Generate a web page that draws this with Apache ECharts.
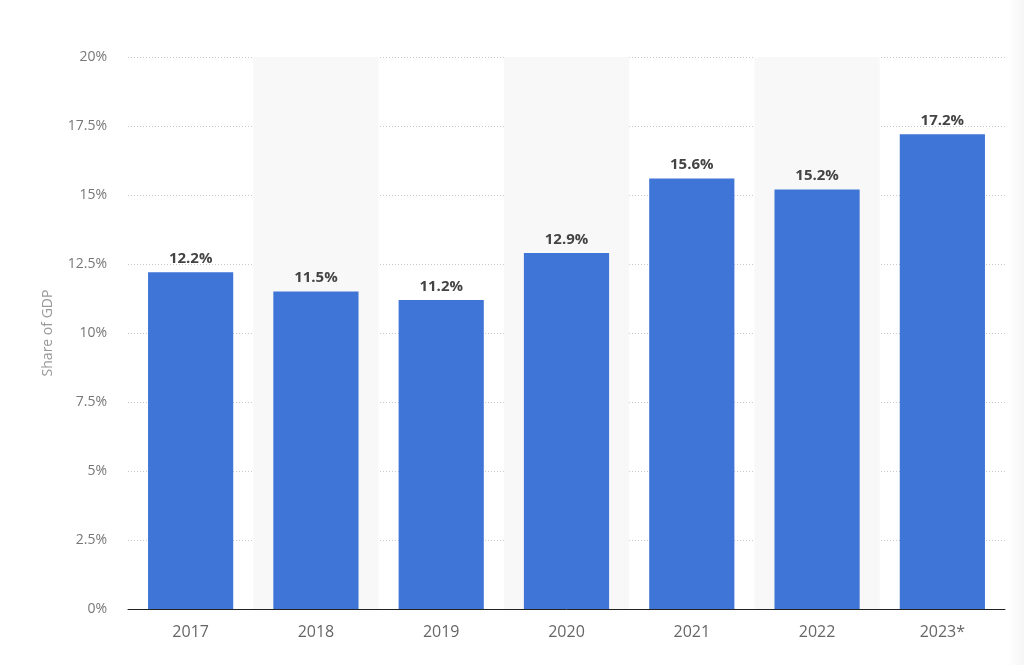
<!DOCTYPE html>
<html><head><meta charset="utf-8">
<style>html,body{margin:0;padding:0;background:#fff;}#c{width:1024px;height:665px;}</style>
<script src="https://cdn.jsdelivr.net/npm/echarts@6/dist/echarts.min.js"></script>
</head><body><div id="c"></div>
<script>
const categories = ['2017','2018','2019','2020','2021','2022','2023*'];
const values = [12.2, 11.5, 11.2, 12.9, 15.6, 15.2, 17.2];
const yTicks = [0, 2.5, 5, 7.5, 10, 12.5, 15, 17.5, 20];

const chart = echarts.init(document.getElementById('c'));
chart.setOption({
  animation: false,
  grid: {left: 128, right: 19, top: 57, bottom: 56, containLabel: false},
  graphic: [{
    type: 'rect', right: 0, top: 0, z: -1,
    shape: {width: 16, height: 665},
    style: {fill: new echarts.graphic.LinearGradient(0,0,1,0,[{offset:0,color:'rgba(0,0,0,0)'},{offset:1,color:'rgba(0,0,0,0.035)'}])}
  }],
  xAxis: {
    type: 'category', data: categories,
    axisLine: {lineStyle: {color: '#222', width: 1}},
    axisTick: {show: false},
    axisLabel: {color: '#666', fontSize: 16, margin: 15, fontFamily: 'Open Sans, sans-serif'},
    splitArea: {show: true, areaStyle: {color: ['rgba(255,255,255,0)', '#f8f8f8']}}
  },
  yAxis: {
    type: 'value', min: 0, max: 20, interval: 2.5,
    name: 'Share of GDP', nameLocation: 'middle', nameGap: 73, nameRotate: 90,
    nameTextStyle: {color: '#999', fontSize: 14, fontFamily: 'Open Sans, sans-serif'},
    axisLine: {show: false}, axisTick: {show: false},
    axisLabel: {color: '#777', fontSize: 14, margin: 21, fontFamily: 'Open Sans, sans-serif',
      formatter: v => yTicks.includes(v) ? v + '%' : ''},
    splitLine: {lineStyle: {color: '#c8c8c8', type: [1, 2], width: 1}}
  },
  series: [{
    type: 'bar', data: values, barWidth: '68%',
    itemStyle: {color: '#3f75d6'},
    label: {show: true, position: 'top', distance: 6, formatter: p => p.value.toFixed(1) + '%',
      color: '#444', fontSize: 15, fontWeight: 'bold', fontFamily: 'Open Sans, sans-serif'}
  }]
});
</script></body></html>
